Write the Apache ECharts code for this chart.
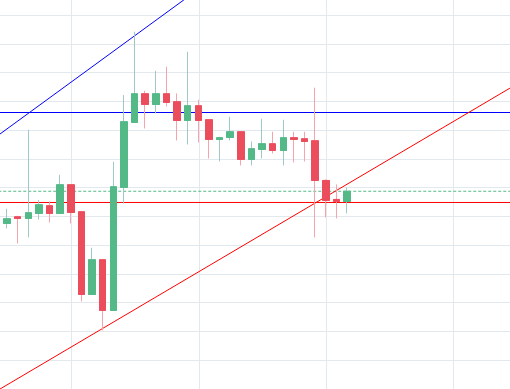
<!DOCTYPE html>
<html>
<head>
<meta charset="utf-8">
<script src="https://cdn.jsdelivr.net/npm/echarts@6/dist/echarts.min.js"></script>
<style>
html,body{margin:0;padding:0;background:#ffffff;}
#chart{width:510px;height:389px;}
</style>
</head>
<body>
<div id="chart"></div>
<script>
// time slot of each candle
const times = [6,7,8,9,10,11,12,13,14,15,16,17,18,19,20,21,22,23,24,25,26,27,28,29,30,31,32,33,34,35,36,37,38];
const opens  = [57.58,59.91,59.32,61.06,63.74,61.06,71.04,61.65,32.88,44.95,27.32,70.10,92.71,102.69,98.97,102.69,99.91,93.40,98.52,93.65,86.80,87.49,89.47,79.84,83.32,85.30,82.97,87.39,87.04,86.34,72.54,65.93,65.23];
const closes = [59.21,59.32,61.30,64.08,61.06,71.04,61.40,32.88,44.95,27.32,70.34,92.95,102.69,98.97,102.69,99.67,93.40,98.52,93.40,86.80,87.39,89.47,79.84,83.56,85.30,82.97,87.39,86.80,86.10,72.54,65.58,65.23,68.78];
const lows   = [55.84,50.62,52.71,58.97,57.93,61.06,57.58,30.45,32.88,20.36,27.32,64.54,92.71,90.62,95.84,98.27,86.45,85.06,85.75,80.19,79.14,86.45,77.75,77.75,80.19,81.93,77.75,78.80,79.14,52.71,59.67,59.32,61.06];
const highs  = [62.69,60.26,90.17,65.72,65.23,74.52,71.04,61.65,49.13,44.95,79.04,102.24,124.26,103.74,110.69,112.08,102.80,117.30,100.60,93.65,87.74,94.69,89.47,86.10,94.00,89.47,93.65,89.47,89.47,104.78,72.88,71.14,70.10];

// drawing tools (price levels and trend lines, in data coordinates)
const blueLevel = 96.17;
const redLevel = 64.87;
const blueTrend = [[0, 74.30], [60, 236.04]];
const redTrend = [[0, -11.65], [60, 119.18]];

// visible axis ranges
const xRange = [5.34, 53.34];
const yRange = [0, 135.30];
const timeGridRange = [0, 36];

const UP = '#53b987', DOWN = '#eb4d5c', UP_WICK = '#9fc9c6', DOWN_WICK = '#f5a3ad';
const GRID_COLOR = '#e1e8ee';

const candles = times.map((t, i) => [t, opens[i], closes[i], lows[i], highs[i]]);
const bodies = times.map((t, i) => [t, opens[i], closes[i], Math.min(opens[i], closes[i]), Math.max(opens[i], closes[i])]);
const lastClose = closes[closes.length - 1];

const chart = echarts.init(document.getElementById('chart'), null, {renderer: 'canvas'});

function levelSeries(y, color, type) {
  return {
    type: 'line', z: 2, silent: true, showSymbol: false, symbol: 'none', clip: true,
    xAxisIndex: 0, yAxisIndex: 0,
    data: [[0, y], [60, y]],
    lineStyle: {color: color, width: 1, type: type || 'solid'}
  };
}
const hidden = {axisLine: {show: false}, axisTick: {show: false}, axisLabel: {show: false}};

chart.setOption({
  animation: false,
  backgroundColor: '#ffffff',
  grid: [
    {left: 0, top: 0, right: 0, bottom: 0, containLabel: false},
    {left: 71.5, top: 0, width: 382, bottom: 0, containLabel: false}
  ],
  xAxis: [
    Object.assign({type: 'value', gridIndex: 0, min: xRange[0], max: xRange[1], splitLine: {show: false}}, hidden),
    Object.assign({type: 'value', gridIndex: 1, min: timeGridRange[0], max: timeGridRange[1], interval: 12,
      splitLine: {show: true, showMinLine: true, showMaxLine: true, lineStyle: {color: GRID_COLOR, width: 1}}}, hidden)
  ],
  yAxis: [
    Object.assign({type: 'value', gridIndex: 0, min: yRange[0], max: yRange[1], interval: 10,
      splitLine: {show: true, showMinLine: false, showMaxLine: false, lineStyle: {color: GRID_COLOR, width: 1}}}, hidden),
    Object.assign({type: 'value', gridIndex: 1, min: 0, max: 1, splitLine: {show: false}}, hidden)
  ],
  series: [
    levelSeries(blueLevel, '#0000ff'),
    levelSeries(redLevel, '#ff0000'),
    levelSeries(lastClose, UP, [3, 2]),
    {
      type: 'line', z: 2, silent: true, showSymbol: false, symbol: 'none', clip: true,
      xAxisIndex: 0, yAxisIndex: 0,
      data: blueTrend, lineStyle: {color: '#0000ff', width: 1}
    },
    {
      type: 'line', z: 2, silent: true, showSymbol: false, symbol: 'none', clip: true,
      xAxisIndex: 0, yAxisIndex: 0,
      data: redTrend, lineStyle: {color: '#ff0000', width: 1}
    },
    {
      type: 'candlestick', z: 5, silent: true, barWidth: 7,
      xAxisIndex: 0, yAxisIndex: 0,
      encode: {x: 0, y: [1, 2, 3, 4]},
      data: candles,
      itemStyle: {color: UP, color0: DOWN, borderColor: UP_WICK, borderColor0: DOWN_WICK, borderWidth: 1}
    },
    {
      type: 'candlestick', z: 6, silent: true, barWidth: 7,
      xAxisIndex: 0, yAxisIndex: 0,
      encode: {x: 0, y: [1, 2, 3, 4]},
      data: bodies,
      itemStyle: {color: UP, color0: DOWN, borderColor: UP, borderColor0: DOWN, borderWidth: 1}
    }
  ]
});
</script>
</body>
</html>
